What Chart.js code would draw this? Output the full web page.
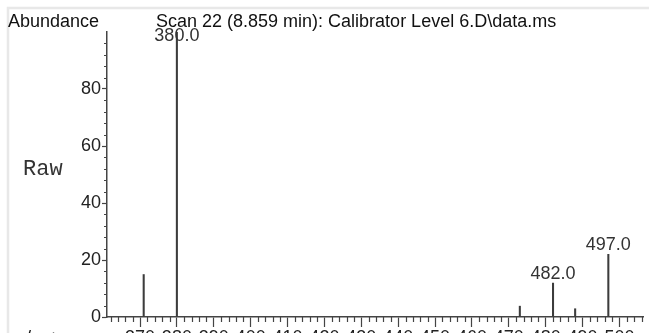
<!DOCTYPE html>
<html>
<head>
<meta charset="utf-8">
<title>Scan 22 (8.859 min)</title>
<script src="https://cdn.jsdelivr.net/npm/chart.js@4.4.1/dist/chart.umd.min.js"></script>
<style>
  html, body { margin: 0; padding: 0; background: #fff; }
  #wrap { width: 649px; height: 333px; }
</style>
</head>
<body>
<div id="wrap"><canvas id="spectrum" width="649" height="333"></canvas></div>
<script>
// peaks of the scan: m/z and raw abundance
const mzValues = [371, 380, 473, 482, 488, 497]
const abundance = [14.9, 100, 3.8, 11.9, 2.9, 22.0]
const labeledPeaks = [380, 482, 497]

// axes
const xTicks = [370, 380, 390, 400, 410, 420, 430, 440, 450, 460, 470, 480, 490, 500]
const yTicks = [0, 20, 40, 60, 80]
const xRange = [361.05, 506.4]
const yRange = [0, 100]

const SANS = '"Liberation Sans", Arial, sans-serif'
const AXIS = "#444"

// frame, minor ticks, peak labels and header text
const decorations = {
  id: "decorations",
  beforeDraw(chart) {
    const ctx = chart.ctx
    ctx.save()
    ctx.strokeStyle = "#e8e8e8"
    ctx.lineWidth = 2.5
    ctx.beginPath()
    ctx.moveTo(8, chart.height)
    ctx.lineTo(8, 8)
    ctx.lineTo(chart.width, 8)
    ctx.stroke()
    ctx.restore()
  },
  afterDraw(chart) {
    const { ctx, chartArea, scales: { x, y } } = chart
    ctx.save()

    ctx.strokeStyle = AXIS
    ctx.lineWidth = 1.2
    ctx.beginPath()
    for (let v = Math.ceil(x.min / 2) * 2; v <= x.max; v += 2) {
      if (v % 10 === 0) continue
      const px = Math.round(x.getPixelForValue(v)) + 0.5
      ctx.moveTo(px, chartArea.bottom)
      ctx.lineTo(px, chartArea.bottom + 5)
    }
    for (let v = 0; v <= y.max; v += 4) {
      if (v % 20 === 0) continue
      const py = Math.round(y.getPixelForValue(v)) + 0.5
      ctx.moveTo(chartArea.left, py)
      ctx.lineTo(chartArea.left - 3, py)
    }
    ctx.stroke()

    ctx.fillStyle = "#333"
    ctx.font = `18px ${SANS}`
    ctx.textAlign = "center"
    ctx.textBaseline = "alphabetic"
    labeledPeaks.forEach((mz) => {
      const i = mzValues.indexOf(mz)
      const px = x.getPixelForValue(mz)
      const py = Math.max(y.getPixelForValue(abundance[i]) - 4, chartArea.top + 9)
      ctx.fillText(mz.toFixed(1), px, py)
    })

    ctx.textAlign = "left"
    ctx.fillStyle = "#111"
    ctx.fillText("Abundance", 8, 27)
    ctx.fillText("Scan 22 (8.859 min): Calibrator Level 6.D\\data.ms", 156, 27)
    ctx.fillText("m/z-->", 11, 343)

    ctx.font = '22px "Liberation Mono", "Courier New", monospace'
    ctx.fillStyle = "#333"
    ctx.fillText("Raw", 23, 175)
    ctx.restore()
  },
}

new Chart(document.getElementById("spectrum"), {
  type: "bar",
  data: {
    datasets: [
      {
        data: mzValues.map((mz, i) => ({ x: mz, y: abundance[i] })),
        backgroundColor: "#3c3c3c",
        borderWidth: 0,
        barThickness: 1.4,
        grouped: false,
      },
    ],
  },
  options: {
    responsive: false,
    animation: false,
    layout: { autoPadding: false, padding: { top: 32, right: 6, left: 0, bottom: 0 } },
    plugins: { legend: { display: false }, tooltip: { enabled: false } },
    scales: {
      x: {
        type: "linear",
        offset: false,
        min: xRange[0],
        max: xRange[1],
        afterBuildTicks: (scale) => {
          scale.ticks = xTicks.map((v) => ({ value: v }))
        },
        afterFit: (scale) => {
          scale.height = 16
          scale.paddingLeft = 0
          scale.paddingRight = 0
        },
        border: { color: AXIS, width: 1.5 },
        grid: { offset: false, drawOnChartArea: false, tickLength: 10, tickColor: AXIS, tickWidth: 1.2 },
        ticks: { color: "#222", font: { family: SANS, size: 18 }, padding: 0, maxRotation: 0, autoSkip: false },
      },
      y: {
        min: yRange[0],
        max: yRange[1],
        afterBuildTicks: (scale) => {
          scale.ticks = yTicks.map((v) => ({ value: v }))
        },
        afterFit: (scale) => {
          scale.width = 107
          scale.paddingTop = 0
          scale.paddingBottom = 0
        },
        border: { color: AXIS, width: 1.5 },
        grid: { drawOnChartArea: false, tickLength: 5, tickColor: AXIS, tickWidth: 1.2 },
        ticks: { color: "#222", font: { family: SANS, size: 18 }, padding: 1 },
      },
    },
  },
  plugins: [decorations],
})
</script>
</body>
</html>
